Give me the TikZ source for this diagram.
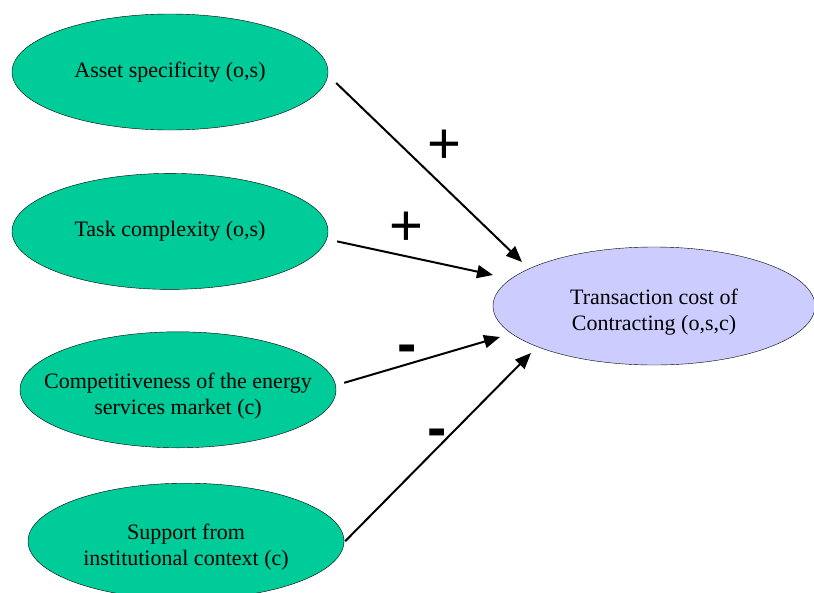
\documentclass[tikz,border=0pt]{standalone}
\usepackage{fontspec}
\setmainfont{Liberation Serif}
\newfontfamily\signfont{Liberation Sans}
\usetikzlibrary{shapes.geometric,arrows.meta,positioning}

\begin{document}
\begin{tikzpicture}[
    x=1pt, y=1pt,
    node distance=42pt,
    factor/.style={ellipse, draw, fill={rgb,255:red,0;green,204;blue,153}, minimum width=316pt, minimum height=116pt, inner xsep=-50pt, inner ysep=0pt, align=center, font=\fontsize{22}{26}\selectfont},
    outcome/.style={ellipse, draw, fill={rgb,255:red,204;green,204;blue,255}, minimum width=322pt, minimum height=118pt, inner xsep=-50pt, inner ysep=0pt, align=center, font=\fontsize{22}{26}\selectfont},
    sign/.style={inner sep=0pt, font=\signfont\fontsize{58}{58}\selectfont},
    minus/.style={sign, font=\signfont\bfseries\fontsize{58}{58}\selectfont},
    arrow/.style={-{Triangle[length=16pt,width=13pt]}, line width=2pt}
]
\useasboundingbox (0,0) rectangle (814,-592);
\clip (0,0) rectangle (814,-592);

% Factors
\node[factor] (asset) at (170,-72) {Asset specificity (o,s)};
\node[factor, below=43pt of asset] (task) {Task complexity (o,s)};
\node[factor, below=42pt of task, xshift=8pt] (comp) {\rule{0pt}{28pt}Competitiveness of the energy\\services market (c)};
\node[factor, below=35pt of comp, xshift=8pt] (support) {\rule{0pt}{28pt}Support from\\institutional context (c)};

% Outcome
\node[outcome] (cost) at (654,-306) {\rule{0pt}{28pt}Transaction cost of\\Contracting (o,s,c)};

% Signs
\node[sign] (plusa) at (444,-147) {+};
\node[sign] (plusb) at (406,-229) {+};
\node[minus] (minusa) at (407,-354) {-};
\node[minus] (minusb) at (437,-438) {-};

% Arrows
\draw[arrow] ([xshift=8pt,yshift=-11pt]asset.east) -- ([xshift=-132pt,yshift=44pt]cost.center);
\draw[arrow] ([xshift=9pt,yshift=-10pt]task.east) -- ([xshift=-161pt,yshift=31pt]cost.center);
\draw[arrow] ([xshift=8pt,yshift=7pt]comp.east) -- ([xshift=-154pt,yshift=-31pt]cost.center);
\draw[arrow] ([xshift=1pt]support.east) -- ([xshift=-123pt,yshift=-47pt]cost.center);

\end{tikzpicture}
\end{document}
